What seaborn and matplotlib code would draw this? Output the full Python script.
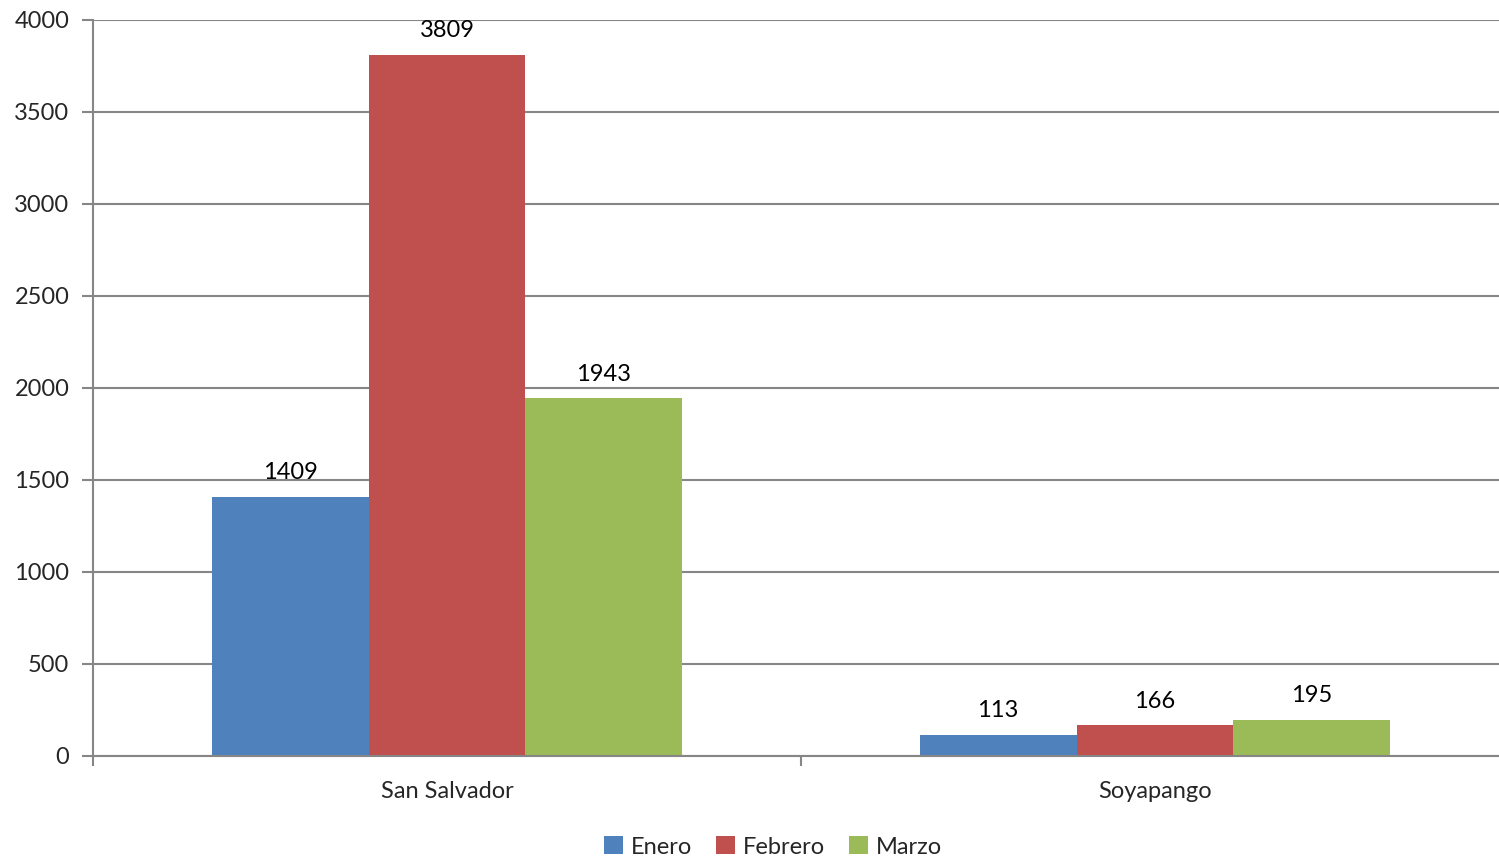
import matplotlib
matplotlib.use("Agg")
import matplotlib.pyplot as plt
import seaborn as sns
import pandas as pd
from matplotlib.patches import Patch

categories = ["San Salvador", "Soyapango"]
months = ["Enero", "Febrero", "Marzo"]
enero = [1409, 113]
febrero = [3809, 166]
marzo = [1943, 195]
colors = ["#4F81BD", "#C0504D", "#9BBB59"]
yticks = [0, 500, 1000, 1500, 2000, 2500, 3000, 3500, 4000]

rows = []
for m, vals in zip(months, [enero, febrero, marzo]):
    for c, v in zip(categories, vals):
        rows.append({"Municipio": c, "Mes": m, "Valor": v})
df = pd.DataFrame(rows)

sns.set_theme(style="white")
plt.rcParams["font.family"] = ["Lato", "DejaVu Sans"]

fig = plt.figure(figsize=(14.99, 8.61), dpi=100)
ax = fig.add_axes([93/1499, 1-756/861, 1416/1499, (756-20)/861])

sns.barplot(data=df, x="Municipio", y="Valor", hue="Mes", order=categories,
            hue_order=months, palette=colors, width=0.665, gap=0,
            saturation=1, edgecolor="none", linewidth=0, ax=ax, legend=False,
            errorbar=None)

for cont in ax.containers:
    ax.bar_label(cont, fmt="%d", padding=10, fontsize=17, color="black")

ax.set_xlim(-0.5, 1.5)
ax.set_ylim(0, 4000)
ax.set_yticks(yticks)
ax.set_yticklabels([str(t) for t in yticks], fontsize=17)
ax.yaxis.grid(True, color="#868686", linewidth=1.5)
ax.set_axisbelow(True)
ax.tick_params(axis="y", length=8, width=1.5, color="#868686", pad=9, left=True)
ax.set_xticks([0, 1])
ax.set_xticklabels(categories, fontsize=17)
ax.set_xticks([-0.5, 0.5, 1.5], minor=True)
ax.tick_params(axis="x", which="major", length=0, pad=18)
ax.tick_params(axis="x", which="minor", length=7, width=1.5, color="#868686", bottom=True)
ax.set_xlabel("")
ax.set_ylabel("")
for s in ["top", "right"]:
    ax.spines[s].set_visible(False)
for s in ["left", "bottom"]:
    ax.spines[s].set_color("#868686")
    ax.spines[s].set_linewidth(1.5)

handles = [Patch(facecolor=c, edgecolor="none", label=m) for m, c in zip(months, colors)]
fig.legend(handles=handles, loc="center", bbox_to_anchor=(773/1499, 1-847/861), ncol=3,
           frameon=False, fontsize=17, handlelength=0.8, handleheight=0.8,
           handletextpad=0.35, columnspacing=1.0, borderpad=0)

fig.savefig("out.png", dpi=100)
